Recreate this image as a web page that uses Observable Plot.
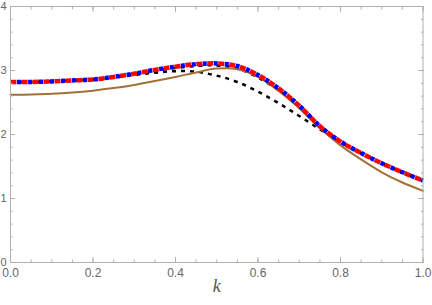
<!DOCTYPE html>
<html><head><meta charset="utf-8">
<script src="https://cdn.jsdelivr.net/npm/d3@7"></script>
<script src="https://cdn.jsdelivr.net/npm/@observablehq/plot@0.6"></script>
<style>body{margin:0;background:#fff}</style>
</head><body><div id="chart"></div>
<script>
const kValues = [0,0.05,0.1,0.15,0.2,0.25,0.3,0.35,0.4,0.45,0.5,0.55,0.6,0.65,0.7,0.75,0.8,0.85,0.9,0.95,1.0];
const brownSeries = [2.62,2.625,2.635,2.655,2.685,2.725,2.775,2.835,2.90,2.97,3.03,3.02,2.90,2.68,2.41,2.10,1.83,1.61,1.41,1.25,1.12];
const blackLowSeries = [2.82,2.82,2.83,2.845,2.86,2.89,2.93,2.965,2.99,2.98,2.92,2.82,2.67,2.49,2.29,2.08,1.88,1.71,1.55,1.41,1.28];
const blackHighSeries = [2.82,2.82,2.83,2.845,2.86,2.90,2.95,3.00,3.04,3.07,3.08,3.03,2.89,2.69,2.45,2.13,1.89,1.71,1.55,1.41,1.28];
const redSeries = [2.82,2.82,2.83,2.845,2.86,2.90,2.95,3.01,3.06,3.10,3.11,3.07,2.93,2.72,2.45,2.13,1.89,1.71,1.55,1.41,1.28];
const blueSeries = [2.82,2.82,2.83,2.845,2.86,2.90,2.95,3.01,3.06,3.10,3.11,3.07,2.93,2.72,2.45,2.13,1.89,1.71,1.55,1.41,1.28];
const xMajorTicks = [0,0.2,0.4,0.6,0.8,1.0];
const xMinorTicks = d3.range(0,21).map(i => i/20);
const yMajorTicks = [0,1,2,3,4];
const yMinorTicks = d3.range(0,21).map(i => i/5);
const xLabel = "k";

const rows = s => kValues.map((k,i) => ({k, v: s[i]}));
const frameColor = "#b0b0b0";
const textColor = "#666";

const chart = Plot.plot({
  width: 432, height: 305,
  marginLeft: 10, marginRight: 9.5, marginTop: 6, marginBottom: 43,
  x: {domain: [0,1]},
  y: {domain: [0,4]},
  style: {fontFamily: "Liberation Sans, Arial, sans-serif", fontSize: "12px", color: textColor, background: "#fff", overflow: "visible"},
  marks: [
    Plot.line(rows(blackLowSeries), {x:"k", y:"v", stroke:"#000", strokeWidth:2.5, strokeDasharray:"4,5", strokeLinecap:"butt", curve:"catmull-rom"}),
    Plot.line(rows(blackHighSeries), {x:"k", y:"v", stroke:"#000", strokeWidth:2.5, strokeDasharray:"4,5", strokeLinecap:"butt", curve:"catmull-rom"}),
    Plot.line(rows(brownSeries), {x:"k", y:"v", stroke:"#a3703a", strokeWidth:2, curve:"catmull-rom"}),
    Plot.line(rows(redSeries), {x:"k", y:"v", stroke:"#ff0000", strokeWidth:4.5, strokeDasharray:"6,5", strokeLinecap:"butt", curve:"catmull-rom"}),
    Plot.line(rows(blueSeries), {x:"k", y:"v", stroke:"#0000ff", strokeWidth:4.5, strokeDasharray:"4,7", strokeDashoffset:-6.5, strokeLinecap:"butt", curve:"catmull-rom"}),
    Plot.frame({stroke: frameColor}),
    // bottom axis
    Plot.axisX({ticks: xMajorTicks, tickSize: 0, tickPadding: 6, tickFormat: d3.format(".1f"), fill: textColor, label: null}),
    Plot.axisX({ticks: xMajorTicks, tickSize: 5, dy: -5, stroke: frameColor, fill: "none", label: null}),
    Plot.axisX({ticks: xMinorTicks, tickSize: 2.5, dy: -2.5, stroke: frameColor, fill: "none", label: null}),
    // top axis
    Plot.axisX({anchor: "top", ticks: xMajorTicks, tickSize: 5, dy: 5, stroke: frameColor, fill: "none", label: null}),
    Plot.axisX({anchor: "top", ticks: xMinorTicks, tickSize: 2.5, dy: 2.5, stroke: frameColor, fill: "none", label: null}),
    // left axis
    Plot.axisY({ticks: yMajorTicks, tickSize: 0, tickPadding: 4, fontSize: 11, tickFormat: d3.format("d"), fill: textColor, label: null}),
    Plot.axisY({ticks: yMajorTicks, tickSize: 5, dx: 5, stroke: frameColor, fill: "none", label: null}),
    Plot.axisY({ticks: yMinorTicks, tickSize: 2.5, dx: 2.5, stroke: frameColor, fill: "none", label: null}),
    // right axis
    Plot.axisY({anchor: "right", ticks: yMajorTicks, tickSize: 5, dx: -5, stroke: frameColor, fill: "none", label: null}),
    Plot.axisY({anchor: "right", ticks: yMinorTicks, tickSize: 2.5, dx: -2.5, stroke: frameColor, fill: "none", label: null}),
    Plot.text([xLabel], {frameAnchor: "bottom", dy: 29, fontSize: 18, fontStyle: "italic", fontFamily: "Liberation Serif, Times New Roman, serif", fill: "#555"})
  ]
});
document.getElementById("chart").append(chart);
</script>
</body></html>
